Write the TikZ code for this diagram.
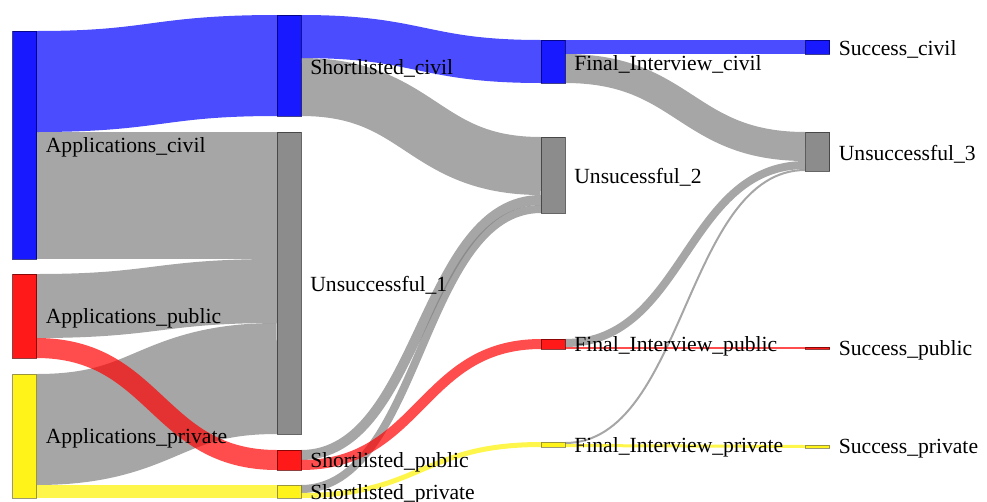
\documentclass[tikz,border=0pt]{standalone}
\usepackage{fontspec}
\setmainfont{Liberation Serif}
\usetikzlibrary{positioning,calc,backgrounds}

\def\px{0.02cm}
% flow: source, offset on source, target, offset on target, width, colour
\newcommand{\flow}[6]{%
  \draw[link=#6, line width=#5*\px]
    let \p1=($(#1.north east)+(0,#2)$), \p2=($(#3.north west)+(0,#4)$) in
    (\p1) .. controls ({(\x1+\x2)/2},\y1) and ({(\x1+\x2)/2},\y2) .. (\p2);
}

\begin{document}
\begin{tikzpicture}[x=0.02cm, y=-0.02cm,
    bar/.style={rectangle, inner sep=0pt, outer sep=0pt, minimum width=24*\px,
      fill=#1, fill opacity=0.9, draw=#1!40!black, draw opacity=0.75, line width=0.4pt},
    lbl/.style={inner sep=0pt, yshift=-0.05cm, text=black, font=\fontsize{12.3}{14}\selectfont},
    link/.style={draw=#1, draw opacity=0.7, line cap=butt}]
  \useasboundingbox (0,0) rectangle (987,501);

  % first column
  \node[bar=blue, minimum height=228*\px] (ac) at (24.5,145) {};
  \node[bar=red, minimum height=84*\px] (ap) at (24.5,316) {};
  \node[bar=yellow, minimum height=124*\px] (apr) at (24.5,436) {};
  % second column
  \node[bar=blue, minimum height=101*\px] (sc) at (289,65.5) {};
  \node[bar=gray, minimum height=302*\px] (u1) at (289,283) {};
  \node[bar=red, minimum height=20*\px] (sp) at (289,460) {};
  \node[bar=yellow, minimum height=13*\px] (spr) at (289,491.5) {};
  % third column
  \node[bar=blue, minimum height=43*\px] (fic) at (553,61.5) {};
  \node[bar=gray, minimum height=76*\px] (u2) at (553,175) {};
  \node[bar=red, minimum height=10*\px] (fip) at (553,344) {};
  \node[bar=yellow, minimum height=5*\px] (fipr) at (553,444.5) {};
  % fourth column
  \node[bar=blue, minimum height=14*\px] (scv) at (817.5,47) {};
  \node[bar=gray, minimum height=39*\px] (u3) at (817.5,151.5) {};
  \node[bar=red, minimum height=2*\px] (spu) at (817.5,348) {};
  \node[bar=yellow, minimum height=3*\px] (sprv) at (817.5,446.5) {};

  \begin{pgfonlayer}{background}
    % grey flows underneath
    \flow{ac}{164.5}{u1}{63.5}{127}{gray}
    \flow{ap}{32}{u1}{159}{64}{gray}
    \flow{apr}{55.5}{u1}{246.5}{111}{gray}
    \flow{sc}{72}{u2}{29}{58}{gray}
    \flow{sp}{5}{u2}{63}{10}{gray}
    \flow{spr}{4}{u2}{72}{8}{gray}
    \flow{fic}{28.5}{u3}{14.5}{29}{gray}
    \flow{fip}{4}{u3}{33}{8}{gray}
    \flow{fipr}{1}{u3}{38}{2}{gray}
    % coloured flows on top
    \flow{ac}{50.5}{sc}{50.5}{101}{blue}
    \flow{ap}{74}{sp}{10}{20}{red}
    \flow{apr}{117.5}{spr}{6.5}{13}{yellow}
    \flow{sc}{21.5}{fic}{21.5}{43}{blue}
    \flow{sp}{15}{fip}{5}{10}{red}
    \flow{spr}{10.5}{fipr}{2.5}{5}{yellow}
    \flow{fic}{7}{scv}{7}{14}{blue}
    \flow{fip}{9}{spu}{1}{2}{red}
    \flow{fipr}{3.5}{sprv}{1.5}{3}{yellow}
  \end{pgfonlayer}

  \node[lbl, right=0.18cm of ac] (lac) {Applications\_civil};
  \node[lbl, right=0.18cm of ap] (lap) {Applications\_public};
  \node[lbl, right=0.18cm of apr] (lapr) {Applications\_private};
  \node[lbl, right=0.18cm of sc] (lsc) {Shortlisted\_civil};
  \node[lbl, right=0.18cm of u1] (lu1) {Unsuccessful\_1};
  \node[lbl, right=0.18cm of sp] (lsp) {Shortlisted\_public};
  \node[lbl, right=0.18cm of spr] (lspr) {Shortlisted\_private};
  \node[lbl, right=0.18cm of fic] (lfic) {Final\_Interview\_civil};
  \node[lbl, right=0.18cm of u2] (lu2) {Unsucessful\_2};
  \node[lbl, right=0.18cm of fip] (lfip) {Final\_Interview\_public};
  \node[lbl, right=0.18cm of fipr] (lfipr) {Final\_Interview\_private};
  \node[lbl, right=0.18cm of scv] (lscv) {Success\_civil};
  \node[lbl, right=0.18cm of u3] (lu3) {Unsuccessful\_3};
  \node[lbl, right=0.18cm of spu] (lspu) {Success\_public};
  \node[lbl, right=0.18cm of sprv] (lsprv) {Success\_private};
\end{tikzpicture}
\end{document}
